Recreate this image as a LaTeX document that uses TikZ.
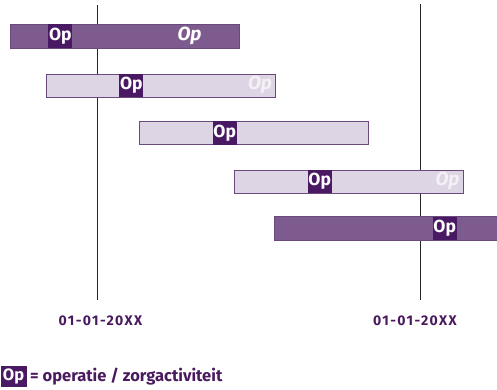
\documentclass[tikz,border=0pt]{standalone}
\usepackage{fontspec}
\setmainfont{Fira Sans}
\definecolor{barmid}{HTML}{7D5B8E}
\definecolor{barline}{HTML}{6A4A7E}
\definecolor{barlight}{HTML}{DDD5E3}
\definecolor{opdark}{HTML}{4A1963}
\definecolor{labtext}{HTML}{4A1A5E}
\definecolor{italop}{HTML}{F4F0F6}
\tikzset{
  darkbar/.style={draw=barline, line width=0.8pt, fill=barmid},
  lightbar/.style={draw=barline, line width=0.8pt, fill=barlight},
  opbox/.style={fill=opdark, text=white, font=\fontsize{17.5}{17.5}\selectfont\bfseries, inner sep=0pt, minimum width=24pt, minimum height=23.5pt, anchor=center},
  italop/.style={font=\fontsize{19}{19}\selectfont\bfseries\itshape, inner sep=0pt},
  datelab/.style={text=labtext, font=\fontsize{14}{14}\selectfont\bfseries\addfontfeature{LetterSpace=10}, inner sep=0pt},
  vline/.style={draw=black!85, line width=1pt}
}
\begin{document}
\begin{tikzpicture}[x=1pt,y=-1pt]
\useasboundingbox (0,0) rectangle (497,389);
% vertical lines
\coordinate (l1t) at (97,5);
\coordinate (l1b) at (97,300);
\coordinate (l2t) at (420.5,4);
\coordinate (l2b) at (420.5,300);
\draw[vline] (l1t) -- (l1b);
\draw[vline] (l2t) -- (l2b);
% bar 1
\draw[darkbar] (10,24.5) rectangle (239,48);
\node[opbox] (op1) at (60.3,36.2) {Op};
\node[italop, text=white] (it1) at (189.5,35.5) {Op};
% bar 2
\draw[lightbar] (46.7,74) rectangle (275,97.3);
\node[opbox] (op2) at (131.3,85.6) {Op};
\node[italop, text=italop] (it2) at (260,85) {Op};
% bar 3
\draw[lightbar] (139.5,121.5) rectangle (368,144.7);
\node[opbox] (op3) at (224.7,133.1) {Op};
% bar 4
\draw[lightbar] (234.7,170) rectangle (463,193.3);
\node[opbox] (op4) at (319.7,181.6) {Op};
\node[italop, text=italop] (it4) at (447.5,181) {Op};
% bar 5
\draw[darkbar] (274.7,216.7) rectangle (498,240);
\node[opbox] (op5) at (444.7,228.3) {Op};
% date labels
\node[datelab] (d1) at (100.5,320.5) {01-01-20XX};
\node[datelab] (d2) at (415,320.5) {01-01-20XX};
% legend
\node[fill=opdark, text=white, font=\fontsize{16.5}{16.5}\selectfont\bfseries, inner sep=0pt, minimum width=26pt, minimum height=21pt] (lgop) at (13.5,376.5) {Op};
\node[anchor=west, text=labtext, font=\fontsize{16.5}{16.5}\selectfont\bfseries, inner sep=0pt] (lgtxt) at (30,377) {= operatie / zorgactiviteit};
\end{tikzpicture}
\end{document}
